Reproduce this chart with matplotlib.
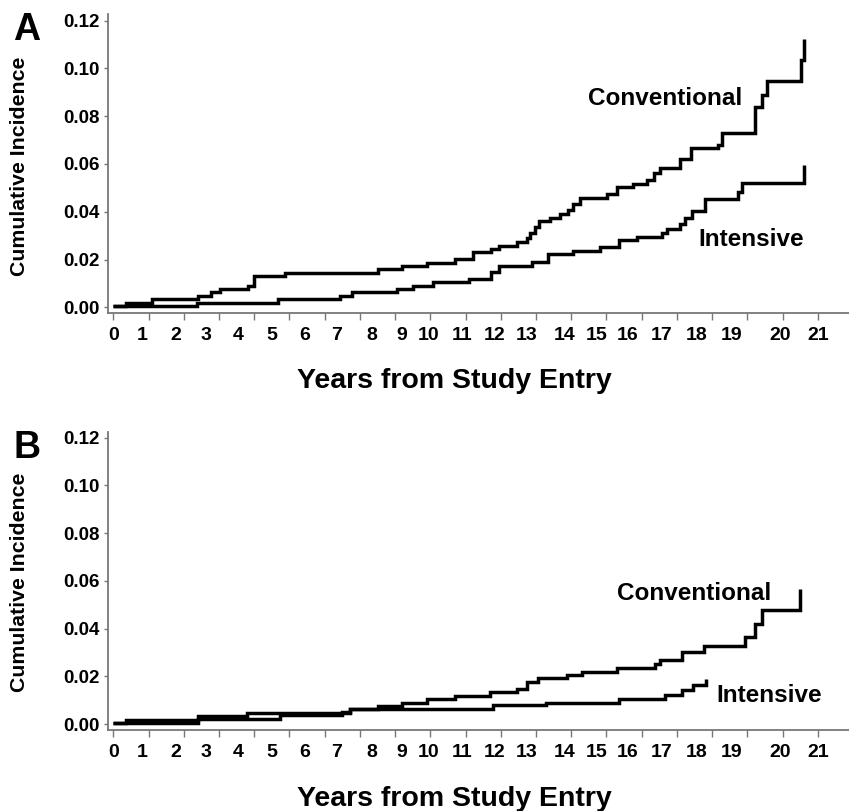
import matplotlib
matplotlib.use("Agg")
import matplotlib.pyplot as plt
import numpy as np

# ---------------- data (years, cumulative incidence) ----------------
a_conv_years = [0, 0.378, 1.144, 2.533, 2.902, 3.179, 4.023, 4.201, 5.116, 7.896,
                8.594, 9.339, 10.182, 10.727, 11.254, 11.493, 12.020, 12.318, 12.416,
                12.566, 12.685, 13.013, 13.311, 13.558, 13.707, 13.906, 14.702, 15.0,
                15.495, 15.894, 16.120, 16.290, 16.886, 17.205, 18.018, 18.138, 19.121,
                19.321, 19.470, 20.492, 20.590]
a_conv_inc = [0.0007, 0.0019, 0.0035, 0.0049, 0.0063, 0.0075, 0.009, 0.0131, 0.0145,
              0.0159, 0.0173, 0.0187, 0.0202, 0.023, 0.0244, 0.0258, 0.0272, 0.0289,
              0.031, 0.0337, 0.0361, 0.0373, 0.0389, 0.0407, 0.0431, 0.0456, 0.0473,
              0.0502, 0.0516, 0.0533, 0.0564, 0.0582, 0.062, 0.0666, 0.068, 0.0731,
              0.0837, 0.0889, 0.0949, 0.1035, 0.1122]

a_int_years = [0, 2.485, 4.917, 6.755, 7.104, 8.445, 8.939, 9.535, 10.599, 11.254,
               11.493, 12.467, 12.962, 13.698, 14.502, 15.069, 15.596, 16.341, 16.490,
               16.886, 17.035, 17.235, 17.631, 18.624, 18.725, 20.590]
a_int_inc = [0.0007, 0.0019, 0.0035, 0.0049, 0.0063, 0.0078, 0.009, 0.0105, 0.012,
             0.0149, 0.0174, 0.0191, 0.0223, 0.0237, 0.0251, 0.0282, 0.0296, 0.0312,
             0.0328, 0.0349, 0.0373, 0.0404, 0.0452, 0.0484, 0.0522, 0.0596]

b_conv_years = [0, 0.378, 2.533, 3.975, 7.053, 7.896, 8.594, 9.339, 10.182, 11.225,
                12.020, 12.318, 12.664, 13.51, 13.975, 15.0, 16.141, 16.290, 16.937,
                17.610, 18.823, 19.121, 19.321, 20.462]
b_conv_inc = [0.0005, 0.0016, 0.0033, 0.0047, 0.0062, 0.0077, 0.009, 0.0103, 0.0119,
              0.0133, 0.0147, 0.0175, 0.0192, 0.0205, 0.0219, 0.0236, 0.025, 0.0268,
              0.0303, 0.0327, 0.0363, 0.0418, 0.0478, 0.0565]

b_int_years = [0, 2.533, 4.967, 6.806, 7.053, 11.323, 12.893, 15.077, 16.439, 16.937,
               17.282, 17.661]
b_int_inc = [0.0005, 0.0019, 0.0037, 0.0050, 0.0062, 0.008, 0.0089, 0.0105, 0.0122,
             0.0142, 0.0163, 0.0187]

ytick_values = [0.00, 0.02, 0.04, 0.06, 0.08, 0.10, 0.12]
xtick_texts = [str(i) for i in range(22)]
# where the original drew the year labels (not aligned with its tick marks)
xtick_label_pos = [0, 0.846, 1.868, 2.762, 3.716, 4.720, 5.712, 6.666, 7.700, 8.594,
                   9.40, 10.381, 11.374, 12.318, 13.459, 14.404, 15.337, 16.341,
                   17.384, 18.427, 19.866, 20.998]
xtick_mark_pos = [k * 1.04946 for k in range(21)]

FONT = "Liberation Sans"
plt.rcParams["font.family"] = [FONT, "DejaVu Sans"]
plt.rcParams["font.weight"] = "bold"

fig = plt.figure(figsize=(8.49, 8.11), dpi=100)

W, H = 849.0, 811.0
panels = [
    dict(letter="A", top=14, bottom=313, conv=(a_conv_years, a_conv_inc),
         intv=(a_int_years, a_int_inc), ylim=(-0.00239, 0.1228),
         conv_txt=(14.15, 0.0846), int_txt=(17.42, 0.0257), ylab_y=166),
    dict(letter="B", top=431.7, bottom=730, conv=(b_conv_years, b_conv_inc),
         intv=(b_int_years, b_int_inc), ylim=(-0.00251, 0.1225),
         conv_txt=(15.0, 0.052), int_txt=(17.96, 0.00935), ylab_y=582.5),
]

spine_col = "#777777"
for p in panels:
    left = 108 / W
    bottom = 1 - p["bottom"] / H
    height = (p["bottom"] - p["top"]) / H
    ax = fig.add_axes([left, bottom, 1 - left, height])
    ax.xaxis.remove_overlapping_locs = False
    ax.step(p["conv"][0], p["conv"][1], where="post", color="black", lw=2.5,
            solid_joinstyle="miter", solid_capstyle="butt")
    ax.step(p["intv"][0], p["intv"][1], where="post", color="black", lw=2.5,
            solid_joinstyle="miter", solid_capstyle="butt")
    ax.set_xlim(-0.158, 21.92)
    ax.set_ylim(*p["ylim"])
    for s in ["top", "right"]:
        ax.spines[s].set_visible(False)
    for s in ["left", "bottom"]:
        ax.spines[s].set_color(spine_col)
        ax.spines[s].set_linewidth(1.3)
    ax.set_yticks(ytick_values)
    ax.set_yticklabels([f"{v:.2f}" for v in ytick_values])
    ax.tick_params(axis="y", direction="out", length=3, width=1.0, color=spine_col,
                   labelsize=13.5, pad=3)
    ax.set_xticks(xtick_mark_pos)
    ax.set_xticklabels([""] * len(xtick_mark_pos))
    ax.tick_params(axis="x", which="major", direction="out", length=5, width=1.0,
                   color=spine_col)
    ax.set_xticks(xtick_label_pos, minor=True)
    ax.set_xticklabels(xtick_texts, minor=True)
    ax.tick_params(axis="x", which="minor", length=0, labelsize=14, pad=10)
    for lbl in ax.get_xticklabels(minor=True) + ax.get_yticklabels():
        lbl.set_fontweight("bold")
    ax.text(*p["conv_txt"], "Conventional", fontsize=17.5, fontweight="bold",
            ha="left", va="baseline")
    ax.text(*p["int_txt"], "Intensive", fontsize=17.5, fontweight="bold",
            ha="left", va="baseline")
    # panel letter
    fig.text(13 / W, 1 - (p["top"] + 26) / H, p["letter"], fontsize=27,
             fontweight="bold", ha="left", va="baseline")
    # y label
    fig.text(20 / W, 1 - p["ylab_y"] / H, "Cumulative Incidence", rotation=90,
             fontsize=15.3, fontweight="bold", ha="center", va="center")
    # x label
    fig.text(454.5 / W, 1 - (p["bottom"] + 75.5) / H, "Years from Study Entry",
             fontsize=20.5, fontweight="bold", ha="center", va="baseline")

fig.savefig("out.png", dpi=100)
